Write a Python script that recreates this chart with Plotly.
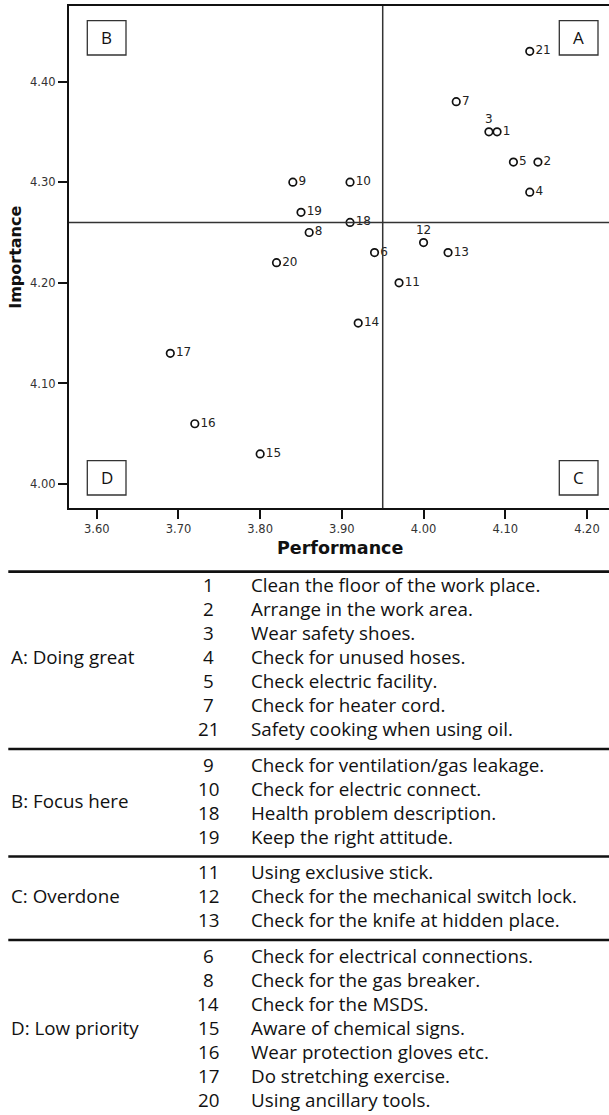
import plotly.graph_objects as go

# ---------------- data ----------------
item_ids = ["1", "2", "3", "4", "5", "6", "7", "8", "9", "10", "11",
            "12", "13", "14", "15", "16", "17", "18", "19", "20", "21"]
performance = [4.09, 4.14, 4.08, 4.13, 4.11, 3.94, 4.04, 3.86, 3.84, 3.91, 3.97,
               4.00, 4.03, 3.92, 3.80, 3.72, 3.69, 3.91, 3.85, 3.82, 4.13]
importance = [4.35, 4.32, 4.35, 4.29, 4.32, 4.23, 4.38, 4.25, 4.30, 4.30, 4.20,
              4.24, 4.23, 4.16, 4.03, 4.06, 4.13, 4.26, 4.27, 4.22, 4.43]

perf_mean = 3.95
imp_mean = 4.26

x_ticks = [3.60, 3.70, 3.80, 3.90, 4.00, 4.10, 4.20]
y_ticks = [4.00, 4.10, 4.20, 4.30, 4.40]

quadrant_letters = ["A", "B", "C", "D"]

group_names = ["A: Doing great", "B: Focus here", "C: Overdone", "D: Low priority"]
group_ids = [
    ["1", "2", "3", "4", "5", "7", "21"],
    ["9", "10", "18", "19"],
    ["11", "12", "13"],
    ["6", "8", "14", "15", "16", "17", "20"],
]
group_desc = [
    ["Clean the floor of the work place.", "Arrange in the work area.",
     "Wear safety shoes.", "Check for unused hoses.", "Check electric facility.",
     "Check for heater cord.", "Safety cooking when using oil."],
    ["Check for ventilation/gas leakage.", "Check for electric connect.",
     "Health problem description.", "Keep the right attitude."],
    ["Using exclusive stick.", "Check for the mechanical switch lock.",
     "Check for the knife at hidden place."],
    ["Check for electrical connections.", "Check for the gas breaker.",
     "Check for the MSDS.", "Aware of chemical signs.", "Wear protection gloves etc.",
     "Do stretching exercise.", "Using ancillary tools."],
]

# ---------------- layout helpers ----------------
W, H = 609, 1115
def px(x):
    return x / W
def py(y):
    return 1 - y / H

plot_left, plot_right = 69, 609
plot_top, plot_bottom = 6, 508.3

label_above = {"3", "12"}
text_pos = ["top center" if i in label_above else "middle right" for i in item_ids]

fig = go.Figure()
fig.add_trace(go.Scatter(
    x=performance, y=importance, mode="markers+text",
    text=item_ids, textposition=text_pos,
    textfont=dict(family="DejaVu Sans", size=12, color="#222"),
    marker=dict(symbol="circle-open", size=7.5, color="#111",
                line=dict(width=1.7, color="#111")),
    hoverinfo="skip", showlegend=False,
))

shapes = []
annotations = []

# quadrant lines
shapes.append(dict(type="line", xref="x", yref="y domain", x0=perf_mean, x1=perf_mean,
                   y0=0, y1=1, line=dict(color="#333", width=1.5)))
shapes.append(dict(type="line", xref="x domain", yref="y", x0=0, x1=1,
                   y0=imp_mean, y1=imp_mean, line=dict(color="#333", width=1.5)))

# quadrant letter boxes (pixel positions)
box_pos = {"A": (559.3, 20.7), "B": (87.3, 20.7), "C": (559.3, 460.7), "D": (87.3, 460.7)}
bw, bh = 38.7, 34.3
for q in quadrant_letters:
    bx, by = box_pos[q]
    shapes.append(dict(type="rect", xref="paper", yref="paper",
                       x0=px(bx), x1=px(bx + bw), y0=py(by + bh), y1=py(by),
                       line=dict(color="#333", width=1.3), fillcolor="white", layer="above"))
    annotations.append(dict(xref="paper", yref="paper", x=px(bx + bw / 2), y=py(by + bh / 2),
                            text=q, showarrow=False, xanchor="center", yanchor="middle",
                            font=dict(family="Open Sans", size=17, color="#111")))

# axis titles
annotations.append(dict(xref="paper", yref="paper", x=px(15.5), y=py(257.3),
                        text="Importance", textangle=-90, showarrow=False,
                        xanchor="center", yanchor="middle",
                        font=dict(family="DejaVu Sans", size=16, color="#111", weight="bold")))
annotations.append(dict(xref="paper", yref="paper", x=px(340), y=py(548),
                        text="Performance", showarrow=False,
                        xanchor="center", yanchor="middle",
                        font=dict(family="DejaVu Sans", size=17.5, color="#111", weight="bold")))

# ---------------- table ----------------
tfont = dict(family="Open Sans", size=18.8, color="#111")
row_pitch = 24
y_line = 571.7
shapes.append(dict(type="line", xref="paper", yref="paper", x0=px(8.3), x1=1,
                   y0=py(y_line), y1=py(y_line), line=dict(color="#111", width=2.8)))
y = y_line + 13.3
for gi, gname in enumerate(group_names):
    rows_y = []
    for rid, desc in zip(group_ids[gi], group_desc[gi]):
        rows_y.append(y)
        annotations.append(dict(xref="paper", yref="paper", x=px(208.3), y=py(y), text=rid,
                                showarrow=False, xanchor="center", yanchor="middle", font=tfont))
        annotations.append(dict(xref="paper", yref="paper", x=px(249.3), y=py(y), text=desc,
                                showarrow=False, xanchor="left", yanchor="middle", font=tfont))
        y += row_pitch
    mid = (rows_y[0] + rows_y[-1]) / 2
    annotations.append(dict(xref="paper", yref="paper", x=px(9.3), y=py(mid), text=gname,
                            showarrow=False, xanchor="left", yanchor="middle", font=tfont))
    last = rows_y[-1]
    if gi < len(group_names) - 1:
        sep = last + 20
        shapes.append(dict(type="line", xref="paper", yref="paper", x0=px(8.3), x1=1,
                           y0=py(sep), y1=py(sep), line=dict(color="#111", width=2.5)))
        y = last + 35.5

fig.update_layout(
    width=W, height=H, autosize=False,
    margin=dict(l=0, r=0, t=0, b=0),
    paper_bgcolor="white", plot_bgcolor="white",
    shapes=shapes, annotations=annotations,
    hovermode=False,
    xaxis=dict(domain=[px(plot_left), px(plot_right)], range=[3.566, 4.227],
               tickvals=x_ticks, ticktext=[f"{v:.2f}" for v in x_ticks],
               ticks="outside", ticklen=9, tickwidth=1.5, tickcolor="#111",
               showline=True, linecolor="#111", linewidth=2.3, mirror=True,
               showgrid=False, zeroline=False, automargin=False,
               tickfont=dict(family="DejaVu Sans", size=11.5, color="#333")),
    yaxis=dict(domain=[py(plot_bottom), py(plot_top)], range=[3.976, 4.475],
               tickvals=y_ticks, ticktext=[f"{v:.2f}" for v in y_ticks],
               ticks="outside", ticklen=9, tickwidth=1.5, tickcolor="#111",
               showline=True, linecolor="#111", linewidth=2.3, mirror=False,
               showgrid=False, zeroline=False, automargin=False,
               tickfont=dict(family="DejaVu Sans", size=11.5, color="#333")),
)

fig.write_html("out.html", config={"displayModeBar": False},
               post_script="document.body.style.margin='0';document.body.style.overflow='hidden';")
